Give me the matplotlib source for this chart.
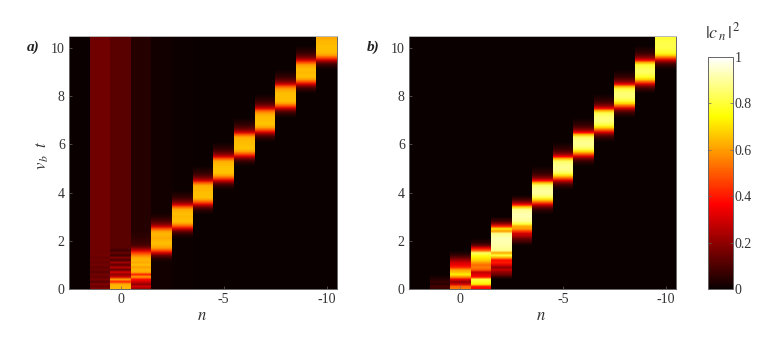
import matplotlib
matplotlib.use('Agg')
import matplotlib.pyplot as plt
import numpy as np

# site index of each column, time step of the rows is 0.1
sites = [2, 1, 0, -1, -2, -3, -4, -5, -6, -7, -8, -9, -10]
dt = 0.1
nrows = 106

# panel a: tail value above the listed rows, first row of the list, values from there up
a_tail = [0.0, 0.155, 0.12, 0.04, 0.015, 0.005, 0, 0, 0, 0, 0, 0, 0]
a_start = [0, 0, 0, 0, 12, 22, 32, 42, 52, 62, 72, 82, 92]
a_n2 = [0.0]
a_n1 = [0.19, 0.14, 0.18, 0.12, 0.17, 0.13, 0.16, 0.12, 0.15, 0.13, 0.16, 0.14, 0.16, 0.14, 0.16, 0.15]
a_n0 = [0.64, 0.64, 0.62, 0.42, 0.6, 0.3, 0.2, 0.3, 0.14, 0.26, 0.12, 0.22, 0.1, 0.18, 0.08, 0.14, 0.08, 0.12]
a_m1 = [0.2, 0.3, 0.2, 0.3, 0.38, 0.6, 0.42, 0.62, 0.64, 0.6, 0.65, 0.62, 0.64, 0.62, 0.55, 0.45, 0.3, 0.18, 0.1, 0.08,
        0.07, 0.06, 0.05, 0.05, 0.04]
a_m2 = [0.03, 0.07, 0.15, 0.3, 0.48, 0.6, 0.63, 0.65, 0.64, 0.62, 0.63, 0.64, 0.6, 0.48, 0.28, 0.17, 0.11, 0.07, 0.04, 0.02]
a_m3 = [0.03, 0.07, 0.15, 0.3, 0.48, 0.6, 0.65, 0.65, 0.64, 0.65, 0.64, 0.62, 0.5, 0.3, 0.18, 0.11, 0.07, 0.04, 0.02]
a_m4 = [0.03, 0.07, 0.15, 0.3, 0.48, 0.6, 0.65, 0.65, 0.65, 0.64, 0.64, 0.62, 0.5, 0.3, 0.18, 0.11, 0.07, 0.04, 0.02]
a_m5 = [0.03, 0.07, 0.15, 0.3, 0.48, 0.6, 0.65, 0.66, 0.66, 0.65, 0.64, 0.62, 0.5, 0.3, 0.18, 0.11, 0.07, 0.04, 0.02]
a_m6 = [0.03, 0.07, 0.15, 0.3, 0.48, 0.6, 0.65, 0.66, 0.65, 0.65, 0.64, 0.62, 0.5, 0.3, 0.18, 0.11, 0.07, 0.04, 0.02]
a_m7 = [0.03, 0.07, 0.15, 0.3, 0.48, 0.6, 0.65, 0.66, 0.65, 0.65, 0.63, 0.6, 0.5, 0.3, 0.18, 0.11, 0.07, 0.04, 0.02]
a_m8 = [0.03, 0.07, 0.15, 0.3, 0.48, 0.6, 0.65, 0.65, 0.65, 0.65, 0.63, 0.6, 0.5, 0.3, 0.18, 0.11, 0.07, 0.04, 0.02]
a_m9 = [0.03, 0.07, 0.15, 0.3, 0.48, 0.6, 0.65, 0.65, 0.64, 0.65, 0.63, 0.6, 0.48, 0.3, 0.18, 0.11, 0.07, 0.04, 0.02]
a_m10 = [0.03, 0.07, 0.15, 0.3, 0.48, 0.6, 0.64, 0.65, 0.65, 0.65, 0.64, 0.64, 0.62, 0.62]

# panel b
b_tail = [0.0, 0.0, 0.0, 0, 0, 0, 0, 0, 0, 0, 0, 0, 0]
b_start = [0, 0, 0, 0, 5, 19, 32, 42, 52, 62, 72, 82, 92]
b_n2 = [0.0]
b_n1 = [0.07, 0.09, 0.05, 0.07, 0.04, 0.02]
b_n0 = [0.55, 0.52, 0.3, 0.2, 0.34, 0.58, 0.72, 0.66, 0.6, 0.42, 0.34, 0.3, 0.22, 0.14, 0.07, 0.03]
b_m1 = [0.36, 0.4, 0.72, 0.78, 0.8, 0.38, 0.32, 0.28, 0.5, 0.55, 0.52, 0.6, 0.68, 0.72, 0.78, 0.84, 0.5, 0.34, 0.15, 0.06, 0.03]
b_m2 = [0.06, 0.15, 0.2, 0.28, 0.2, 0.32, 0.4, 0.38, 0.62, 0.8, 0.62, 0.88, 0.9, 0.91, 0.92, 0.92, 0.92, 0.9, 0.88, 0.6, 0.72, 0.42, 0.22, 0.1, 0.05]
b_m3 = [0.05, 0.1, 0.15, 0.25, 0.3, 0.45, 0.6, 0.62, 0.8, 0.88, 0.91, 0.92, 0.92, 0.91, 0.88, 0.68, 0.38, 0.2, 0.1, 0.04]
b_m4 = [0.03, 0.07, 0.15, 0.3, 0.5, 0.68, 0.82, 0.88, 0.9, 0.9, 0.88, 0.85, 0.66, 0.36, 0.2, 0.12, 0.07, 0.04, 0.02]
b_m5 = [0.03, 0.07, 0.15, 0.3, 0.5, 0.68, 0.82, 0.87, 0.89, 0.89, 0.87, 0.84, 0.66, 0.36, 0.2, 0.12, 0.07, 0.04, 0.02]
b_m6 = [0.03, 0.07, 0.15, 0.3, 0.5, 0.68, 0.82, 0.87, 0.89, 0.89, 0.87, 0.84, 0.66, 0.36, 0.2, 0.12, 0.07, 0.04, 0.02]
b_m7 = [0.03, 0.07, 0.15, 0.3, 0.5, 0.68, 0.8, 0.85, 0.87, 0.87, 0.85, 0.82, 0.64, 0.34, 0.2, 0.12, 0.07, 0.04, 0.02]
b_m8 = [0.03, 0.07, 0.15, 0.3, 0.5, 0.68, 0.79, 0.84, 0.86, 0.86, 0.84, 0.81, 0.64, 0.34, 0.2, 0.12, 0.07, 0.04, 0.02]
b_m9 = [0.03, 0.07, 0.15, 0.3, 0.5, 0.68, 0.78, 0.82, 0.84, 0.84, 0.82, 0.8, 0.62, 0.34, 0.2, 0.12, 0.07, 0.04, 0.02]
b_m10 = [0.03, 0.07, 0.15, 0.3, 0.5, 0.68, 0.78, 0.8, 0.82, 0.82, 0.82, 0.81, 0.8, 0.8]

a_cols = [a_n2, a_n1, a_n0, a_m1, a_m2, a_m3, a_m4, a_m5, a_m6, a_m7, a_m8, a_m9, a_m10]
b_cols = [b_n2, b_n1, b_n0, b_m1, b_m2, b_m3, b_m4, b_m5, b_m6, b_m7, b_m8, b_m9, b_m10]

x_ticks = [0, -5, -10]
y_ticks = [0, 2, 4, 6, 8, 10]
cbar_ticks = [0, 0.2, 0.4, 0.6, 0.8, 1]
cbar_labels = ['0', '0.2', '0.4', '0.6', '0.8', '1']

W, H = 763, 361
GREY = '#666666'
TEXT = '#333333'

plt.rcParams['font.family'] = ['Liberation Serif', 'DejaVu Serif']
plt.rcParams['mathtext.fontset'] = 'stix'


def px_axes(fig, left, top, right, bottom):
    return fig.add_axes([left / W, 1 - bottom / H, (right - left) / W, (bottom - top) / H])


def draw_panel(ax, cols, starts, tails):
    for n, vals, start, tail in zip(sites, cols, starts, tails):
        col = np.full(nrows, float(tail))
        col[start:start + len(vals)] = vals
        # one image per site so the rows blend but the sites stay sharp
        ax.imshow(col[:, None], cmap='hot', vmin=0, vmax=1, origin='lower', aspect='auto',
                  interpolation='bilinear',
                  extent=[n + 0.5, n - 0.5, -dt / 2, (nrows - 0.5) * dt])
    ax.set_xlim(2.5, -10.5)
    ax.set_ylim(0, 10.5)
    ax.set_xticks(x_ticks)
    ax.set_xticklabels(['0', '-5', '-10'])
    ax.set_yticks(y_ticks)
    ax.tick_params(direction='in', length=2, width=0.5, color=GREY, labelcolor=TEXT, labelsize=10, pad=3)
    for s in ax.spines.values():
        s.set_color(GREY)
        s.set_linewidth(0.7)
    ax.spines['top'].set_color('#bbbbbb')


fig = plt.figure(figsize=(W / 100, H / 100), dpi=100)

ax_a = px_axes(fig, 69, 36, 337, 289)
draw_panel(ax_a, a_cols, a_start, a_tail)
ax_b = px_axes(fig, 409, 36, 676, 289)
draw_panel(ax_b, b_cols, b_start, b_tail)

fig.text(202 / W, 1 - 316 / H, r'$n$', fontsize=12, ha='center', va='center', color=TEXT)
fig.text(541 / W, 1 - 316 / H, r'$n$', fontsize=12, ha='center', va='center', color=TEXT)
fig.text(43 / W, 1 - 156 / H, r'$v_{\,b}\;\;t$', fontsize=12, rotation=90, ha='center', va='center', color=TEXT)
fig.text(33 / W, 1 - 47 / H, 'a)', fontsize=11, style='italic', weight='bold', ha='center', va='center', color='#222222')
fig.text(373 / W, 1 - 47 / H, 'b)', fontsize=11, style='italic', weight='bold', ha='center', va='center', color='#222222')
fig.text(723 / W, 1 - 33 / H, r'$|c_{\,n}\,|^{\,2}$', fontsize=13, ha='center', va='center', color=TEXT)

cax = px_axes(fig, 708, 57, 733, 289)
sm = plt.cm.ScalarMappable(cmap='hot', norm=plt.Normalize(0, 1))
cb = fig.colorbar(sm, cax=cax)
cb.set_ticks(cbar_ticks)
cb.set_ticklabels(cbar_labels)
cb.ax.tick_params(direction='in', length=2, width=0.5, color=GREY, labelcolor=TEXT, labelsize=10, pad=1, left=True)
cb.outline.set_edgecolor(GREY)
cb.outline.set_linewidth(0.7)

fig.savefig('out.png', dpi=100)
